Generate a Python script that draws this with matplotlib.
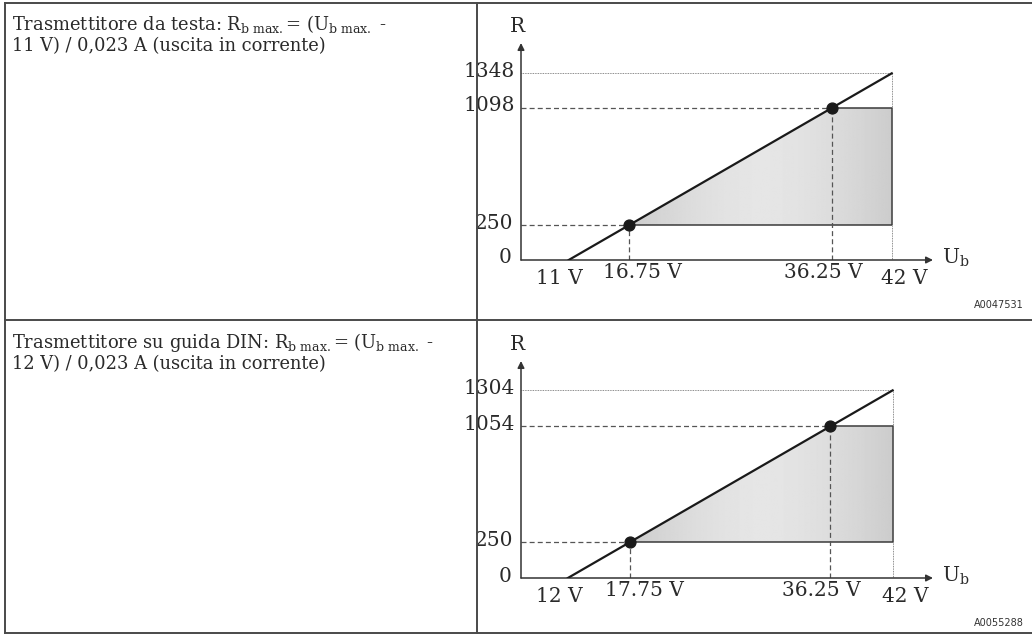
import numpy as np
import matplotlib
matplotlib.use('Agg')
import matplotlib.pyplot as plt
from matplotlib.patches import Polygon
from matplotlib.lines import Line2D

plt.rcParams['font.family'] = 'DejaVu Serif'
plt.rcParams['mathtext.fontset'] = 'dejavuserif'

W, H = 1032, 635

# table rows
row_titles = ['Trasmettitore da testa', 'Trasmettitore su guida DIN']
row_codes = ['A0047531', 'A0055288']

# load characteristic (R over supply voltage Ub)
u_min = [11, 12]          # V where R = 0
u_low = [16.75, 17.75]    # V at R = 250
u_high = [36.25, 36.25]   # V at upper shaded edge
u_max = [42, 42]          # V max
r_low = [250, 250]
r_high = [1098, 1054]
r_max = [1348, 1304]

# schematic axis ranges (diagram is not drawn from 0 V)
x_ranges = [(6.42, 45.96), (7.67, 45.73)]
y_ranges = [(0, 1567), (0, 1508)]

INK = '#2a2a2a'
fig = plt.figure(figsize=(W / 100, H / 100), dpi=100)


def fig_line(x0, y0, x1, y1):
    fig.add_artist(Line2D([x0 / W, x1 / W], [1 - y0 / H, 1 - y1 / H],
                          transform=fig.transFigure, color='#4a4a4a', lw=1.4))


# table grid
for y in (3, 320, 633):
    fig_line(5, y, 1032, y)
fig_line(5, 3, 5, 633)
fig_line(477, 3, 477, 633)

for i in range(2):
    dy = 318 * i

    # left cell text
    line1 = row_titles[i] + r': $\mathrm{R_{b\ max.}}$= ($\mathrm{U_{b\ max.}}$ -'
    line2 = f'{u_min[i]} V) / 0,023 A (uscita in corrente)'
    fig.text(12 / W, 1 - (30 + dy) / H, line1, fontsize=12.9, color=INK, va='baseline')
    fig.text(12 / W, 1 - (51 + dy) / H, line2, fontsize=12.9, color=INK, va='baseline')

    # chart cell
    top, bottom = 43 + dy, 260 + dy
    ax = fig.add_axes([521 / W, 1 - bottom / H, (933 - 521) / W, (bottom - top) / H])
    ax.axis('off')
    xlo, xhi = x_ranges[i]

    # shaded operating region with a soft horizontal gradient
    verts = [(u_low[i], r_low[i]), (u_high[i], r_high[i]),
             (u_max[i], r_high[i]), (u_max[i], r_low[i])]
    poly = Polygon(verts, closed=True, facecolor='none', edgecolor='none')
    ax.add_patch(poly)
    t = np.linspace(0, 1, 256)
    shade = 0.80 + 0.10 * (1 - np.abs(2 * t - 1) ** 1.6)
    img = ax.imshow(shade[None, :], extent=[u_low[i], u_max[i], r_low[i], r_high[i]],
                    aspect='auto', cmap='gray', vmin=0, vmax=1, zorder=1)
    img.set_clip_path(poly)
    ax.plot([u_low[i], u_max[i], u_max[i], u_high[i]],
            [r_low[i], r_low[i], r_high[i], r_high[i]], color='#3a3a3a', lw=1.1, zorder=2)

    # guide lines
    dash = dict(ls=(0, (4, 2.5)), color='#555555', lw=0.9, zorder=3)
    ax.plot([xlo, u_low[i]], [r_low[i], r_low[i]], **dash)
    ax.plot([xlo, u_high[i]], [r_high[i], r_high[i]], **dash)
    ax.plot([u_low[i], u_low[i]], [0, r_low[i]], **dash)
    ax.plot([u_high[i], u_high[i]], [0, r_high[i]], **dash)
    dot = dict(ls=(0, (1, 1)), color='#666666', lw=0.6, zorder=3)
    ax.plot([xlo, u_max[i]], [r_max[i], r_max[i]], **dot)
    ax.plot([u_max[i], u_max[i]], [0, r_low[i]], **dot)
    ax.plot([u_max[i], u_max[i]], [r_high[i], r_max[i]], **dot)

    # load line and points
    ax.plot([u_min[i], u_max[i]], [0, r_max[i]], color='#1a1a1a', lw=1.6, zorder=4)
    ax.plot([u_low[i], u_high[i]], [r_low[i], r_high[i]], 'o', ms=7.8,
            color='#1a1a1a', zorder=5)

    ax.set_xlim(xlo, xhi)
    ax.set_ylim(*y_ranges[i])

    # axes with arrow heads
    arrow = dict(arrowstyle='-|>', color='#333333', lw=1.1, mutation_scale=10,
                 shrinkA=0, shrinkB=0)
    ax.annotate('', xy=(1, 0), xytext=(0, 0), xycoords='axes fraction', arrowprops=arrow)
    ax.annotate('', xy=(0, 1), xytext=(0, 0), xycoords='axes fraction', arrowprops=arrow)
    ax.annotate('R', xy=(0, 1), xycoords='axes fraction', xytext=(-4, 17),
                textcoords='offset pixels', ha='center', va='center', fontsize=14.5, color=INK)
    ax.annotate(r'$\mathrm{U_b}$', xy=(1, 0), xycoords='axes fraction', xytext=(9, 2),
                textcoords='offset pixels', ha='left', va='center', fontsize=14.5, color=INK)

    # y labels
    for v, ox in zip([r_max[i], r_high[i], r_low[i], 0], [-6, -6, -8, -10]):
        ax.annotate(str(v), xy=(0, v), xycoords=('axes fraction', 'data'), xytext=(ox, 2),
                    textcoords='offset pixels', ha='right', va='center',
                    fontsize=14.5, color=INK)
    # x labels
    for v, ox, oy in zip([u_min[i], u_low[i], u_high[i], u_max[i]],
                         [-9, 14, -9, 13], [-19, -12.5, -12.5, -19]):
        ax.annotate(f'{v:g} V', xy=(v, 0), xycoords='data', xytext=(ox, oy),
                    textcoords='offset pixels', ha='center', va='center',
                    fontsize=14.5, color=INK)

    fig.text(1024 / W, 1 - (305 + dy) / H, row_codes[i], ha='right', va='center',
             fontsize=7, family='DejaVu Sans', color='#333333')

fig.savefig('out.png', dpi=100)
